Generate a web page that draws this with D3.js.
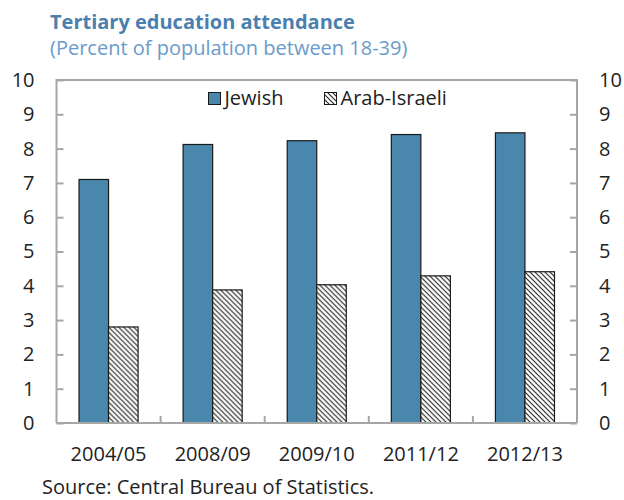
<!DOCTYPE html>
<html>
<head>
<meta charset="utf-8">
<script src="https://cdn.jsdelivr.net/npm/d3@7"></script>
<style>
  body { margin: 0; background: #fff; }
  svg { display: block; }
  text { font-family: "Open Sans", "Noto Sans", sans-serif; }
</style>
</head>
<body>
<svg id="chart" width="624" height="500"></svg>
<script>
// Tertiary education attendance, percent of population aged 18-39
const years = ["2004/05", "2008/09", "2009/10", "2011/12", "2012/13"];
const jewish = [7.1, 8.12, 8.23, 8.41, 8.46];
const arabIsraeli = [2.8, 3.88, 4.03, 4.29, 4.41];
const seriesNames = ["Jewish", "Arab-Israeli"];
const yTicks = [0, 1, 2, 3, 4, 5, 6, 7, 8, 9, 10];

const svg = d3.select("#chart");
const margin = { left: 56.5, right: 47, top: 80, bottom: 77 };
const W = 624, H = 500;
const x0 = margin.left, x1 = W - margin.right;
const yTop = margin.top, yBot = H - margin.bottom;

const blue = "#4a87ad";
const axisGrey = "#a6a6a6";
const textFont = "'Open Sans', 'Noto Sans', sans-serif";

// Hatch pattern for the Arab-Israeli bars
const defs = svg.append("defs");
const pat = defs.append("pattern")
  .attr("id", "hatch")
  .attr("patternUnits", "userSpaceOnUse")
  .attr("width", 5).attr("height", 5);
pat.append("rect").attr("width", 5).attr("height", 5).attr("fill", "#fff");
pat.append("path")
  .attr("d", "M-1,-1 L6,6 M-1,4 L1,6 M4,-1 L6,1")
  .attr("stroke", "#222").attr("stroke-width", 1.1);

const x = d3.scaleBand().domain(years).range([x0, x1]).paddingInner(0).paddingOuter(0);
const xs = d3.scaleBand().domain(seriesNames).range([0, x.bandwidth()]).paddingInner(0).paddingOuter(0.763);
const y = d3.scaleLinear().domain([0, 10]).range([yBot, yTop]);

// Titles
svg.append("text").attr("x", 50).attr("y", 29)
  .attr("font-size", 20).attr("font-weight", 700).attr("fill", "#4a7fae")
  .text("Tertiary education attendance");
svg.append("text").attr("x", 50).attr("y", 55)
  .attr("font-size", 20).attr("fill", "#6a9bcb")
  .text("(Percent of population between 18-39)");

// Bars
const groups = svg.append("g").selectAll("g").data(years).join("g")
  .attr("transform", d => `translate(${x(d)},0)`);
groups.append("rect")
  .attr("x", xs("Jewish")).attr("width", xs.bandwidth())
  .attr("y", (d, i) => y(jewish[i])).attr("height", (d, i) => y(0) - y(jewish[i]))
  .attr("fill", blue).attr("stroke", "#1a1a1a").attr("stroke-width", 1.2);
groups.append("rect")
  .attr("x", xs("Arab-Israeli")).attr("width", xs.bandwidth())
  .attr("y", (d, i) => y(arabIsraeli[i])).attr("height", (d, i) => y(0) - y(arabIsraeli[i]))
  .attr("fill", "url(#hatch)").attr("stroke", "#1a1a1a").attr("stroke-width", 1.2);

// Frame: left, top, right and bottom axis lines
const frame = svg.append("g").attr("stroke", axisGrey).attr("stroke-width", 2).attr("fill", "none");
frame.append("path").attr("d", `M${x0},${yBot} V${yTop} H${x1} V${yBot}`);
frame.append("line").attr("x1", x0).attr("x2", x1).attr("y1", yBot).attr("y2", yBot);

// Left axis
const leftAxis = d3.axisLeft(y).tickValues(yTicks).tickSize(-7).tickPadding(22).tickFormat(d3.format("d"));
const gl = svg.append("g").attr("transform", `translate(${x0},0)`).call(leftAxis);
// Right axis
const rightAxis = d3.axisRight(y).tickValues(yTicks).tickSize(-7).tickPadding(22).tickFormat(d3.format("d"));
const gr = svg.append("g").attr("transform", `translate(${x1},0)`).call(rightAxis);
[gl, gr].forEach(g => {
  g.select(".domain").remove();
  g.selectAll(".tick line").attr("stroke", axisGrey).attr("stroke-width", 2);
  g.selectAll(".tick text").attr("font-size", 20).attr("fill", "#222")
    .attr("font-family", textFont);
});

// Category separators on the bottom axis
svg.append("g").selectAll("line").data(years.slice(1)).join("line")
  .attr("x1", d => x(d)).attr("x2", d => x(d))
  .attr("y1", yBot).attr("y2", yBot - 7)
  .attr("stroke", axisGrey).attr("stroke-width", 2);

// Bottom axis labels
const bottomAxis = d3.axisBottom(x).tickSize(0).tickPadding(24);
const gb = svg.append("g").attr("transform", `translate(0,${yBot})`).call(bottomAxis);
gb.select(".domain").remove();
gb.selectAll(".tick text").attr("font-size", 20).attr("fill", "#222")
  .attr("font-family", textFont);

// Legend
const legend = svg.append("g");
const legendItems = [
  { name: seriesNames[0], fill: blue, lx: 208.5 },
  { name: seriesNames[1], fill: "url(#hatch)", lx: 324.5 }
];
legendItems.forEach(it => {
  legend.append("rect").attr("x", it.lx).attr("y", 92.5).attr("width", 12).attr("height", 12)
    .attr("fill", it.fill).attr("stroke", "#1a1a1a").attr("stroke-width", 1);
  legend.append("text").attr("x", it.lx + 16).attr("y", 105)
    .attr("font-size", 20).attr("fill", "#222").text(it.name);
});

// Source note
svg.append("text").attr("x", 42).attr("y", 494)
  .attr("font-size", 20).attr("fill", "#222")
  .text("Source: Central Bureau of Statistics.");
</script>
</body>
</html>
